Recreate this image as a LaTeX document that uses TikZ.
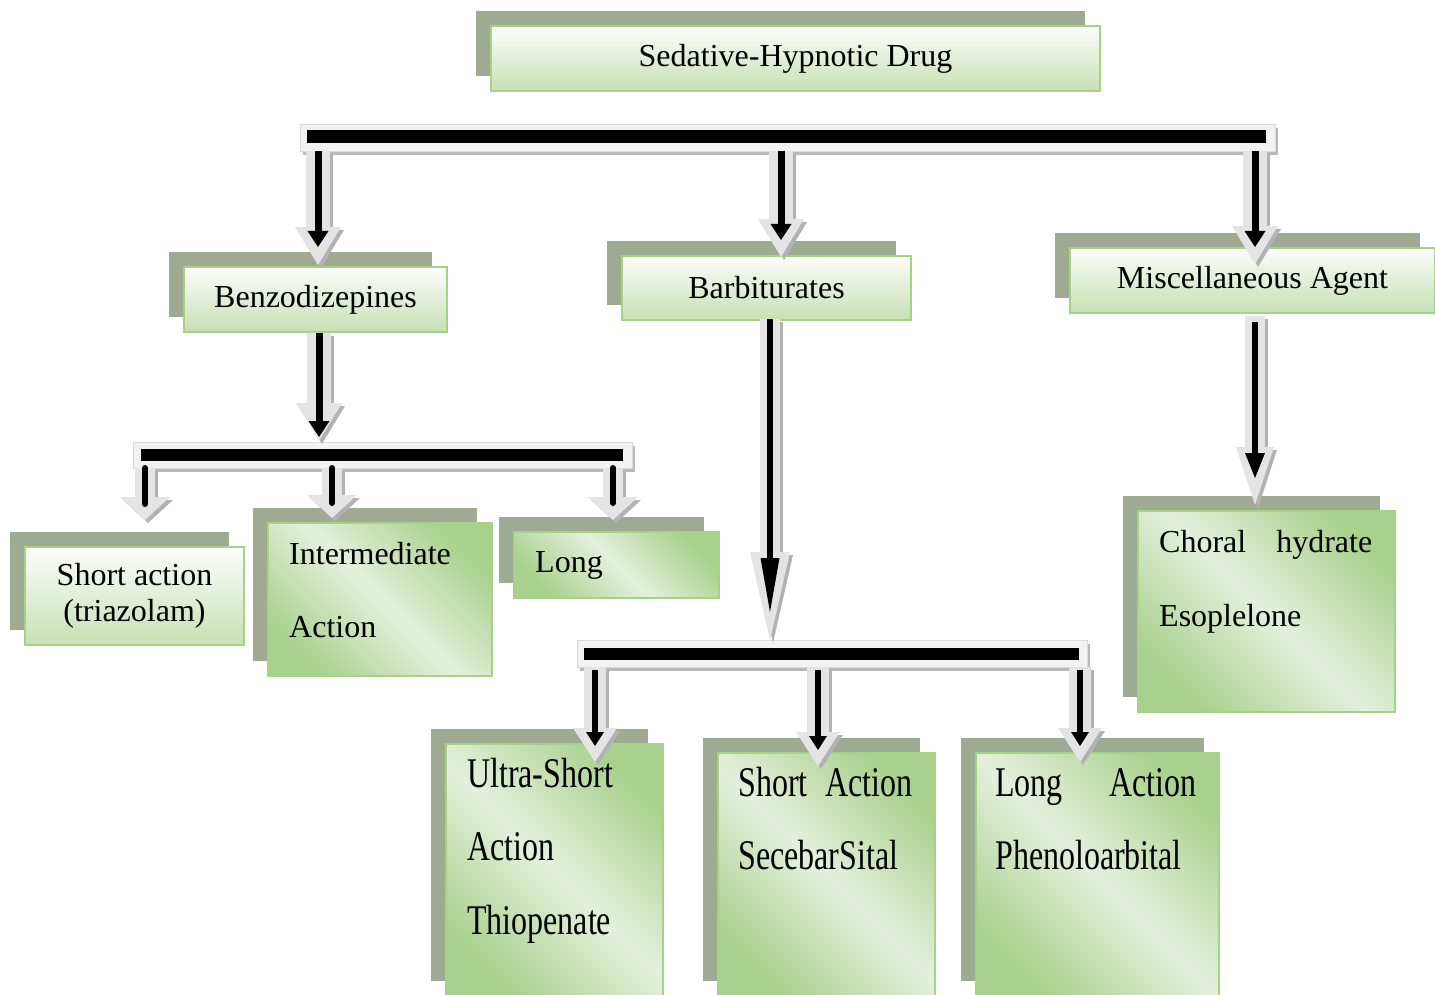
\documentclass[tikz,border=0pt]{standalone}
\usepackage{fontspec}
\usepackage{graphicx}
\setmainfont{Liberation Serif}
\usetikzlibrary{arrows.meta,shadows}
\definecolor{gdark}{RGB}{169,209,142}
\definecolor{glight}{RGB}{228,240,220}
\definecolor{gtop}{RGB}{252,253,250}
\definecolor{gbot}{RGB}{198,224,180}
\definecolor{gborder}{RGB}{165,210,135}
\definecolor{shadowg}{RGB}{158,170,146}
\definecolor{barfill}{RGB}{242,242,242}
\definecolor{barline}{RGB}{218,218,218}
\definecolor{barshade}{RGB}{185,185,185}
\definecolor{arrgray}{RGB}{228,228,228}
\definecolor{arrshade}{RGB}{178,178,178}
\tikzset{
  box/.style={draw=gborder, line width=2pt, anchor=north west, inner sep=0pt, align=center,
    general shadow={fill=shadowg, shadow xshift=-15pt, shadow yshift=15pt}},
  vbox/.style={box, top color=gtop, bottom color=gbot},
  dbox/.style={box, top color=gdark, bottom color=gdark, middle color=glight, shading angle=-45},
  bar/.style={fill=barfill, draw=barline, line width=0.8pt, inner sep=0pt, anchor=north west,
    general shadow={fill=barshade, shadow xshift=3pt, shadow yshift=-4pt}},
  barin/.style={fill=black, inner sep=0pt, anchor=north west},
  lbl/.style={anchor=base west, inner sep=0pt},
  garrow/.style n args={3}{draw=arrgray, line width=#1pt,
    -{Triangle[length=#3pt, width=#2pt, line width=0pt]}},
  sarrow/.style n args={3}{draw=arrshade, line width=#1pt,
    -{Triangle[length=#3pt, width=#2pt, line width=0pt]},
    transform canvas={xshift=3pt, yshift=-3pt}},
  karrow/.style n args={3}{draw=black, line width=#1pt,
    -{Triangle[length=#3pt, width=#2pt, line width=0pt]}},
  kstub/.style={draw=black, line width=6pt, line cap=round},
}
\newcommand{\tall}[1]{\scalebox{1.0}[1.32]{#1}}
\begin{document}
\begin{tikzpicture}[x=1pt, y=-1pt, font=\fontsize{32}{36}\selectfont]
\useasboundingbox (0,0) rectangle (1435,995);

% ---------- boxes ----------
\node[vbox, minimum width=609pt, minimum height=65pt] (top) at (490,25) {Sedative-Hypnotic Drug};
\node[vbox, minimum width=263pt, minimum height=65pt] (benzo) at (183,266) {Benzodizepines};
\node[vbox, minimum width=289pt, minimum height=64pt] (barb) at (621,255) {Barbiturates};
\node[vbox, minimum width=365pt, minimum height=65pt] (misc) at (1069,247) {Miscellaneous Agent};

\node[vbox, minimum width=219pt, minimum height=98pt] (shorta) at (24,546) {Short action\\(triazolam)};
\node[dbox, minimum width=224pt, minimum height=153pt] (inter) at (267,522) {};
\node[dbox, minimum width=205pt, minimum height=66pt] (longa) at (513,531) {};
\node[dbox, minimum width=257pt, minimum height=201pt] (choral) at (1137,510) {};
\node[dbox, minimum width=217pt, minimum height=252pt] (ultra) at (445,743) {};
\node[dbox, minimum width=217pt, minimum height=243pt] (shortb) at (717,752) {};
\node[dbox, minimum width=243pt, minimum height=243pt] (longb) at (975,752) {};

% ---------- texts ----------
\node[lbl] (t-inter1) at (289,564) {Intermediate};
\node[lbl] (t-inter2) at (289,637) {Action};
\node[lbl] (t-long) at (535,572) {Long};
\node[lbl] (t-chor1) at (1159,552) {\hbox to 213pt{Choral\hfill hydrate}};
\node[lbl] (t-chor2) at (1159,626) {Esoplelone};
\node[lbl] (t-ultra1) at (467,787) {\tall{Ultra-Short}};
\node[lbl] (t-ultra2) at (467,860) {\tall{Action}};
\node[lbl] (t-ultra3) at (467,934) {\tall{Thiopenate}};
\node[lbl] (t-sb1) at (738,796) {\tall{\hbox to 174pt{Short\hfill Action}}};
\node[lbl] (t-sb2) at (738,869) {\tall{SecebarSital}};
\node[lbl] (t-lb1) at (995,796) {\tall{\hbox to 201pt{Long\hfill Action}}};
\node[lbl] (t-lb2) at (995,869) {\tall{Phenoloarbital}};

% ---------- bars ----------
\node[bar, minimum width=975pt, minimum height=27pt] (bar1) at (300,124) {};
\node[barin, minimum width=959pt, minimum height=13pt] (bar1k) at (307,130) {};
\node[bar, minimum width=499pt, minimum height=26pt] (bar2) at (133,442) {};
\node[barin, minimum width=482pt, minimum height=12pt] (bar2k) at (141,449) {};
\node[bar, minimum width=510pt, minimum height=27pt] (bar3) at (577,640) {};
\node[barin, minimum width=495pt, minimum height=12pt] (bar3k) at (584,648) {};

% ---------- connector end points ----------
\coordinate (a1s) at (318,151); \coordinate (a1e) at (318,265); \coordinate (a1k) at (318,247);
\coordinate (a2s) at (781,151); \coordinate (a2e) at (781,257); \coordinate (a2k) at (781,240);
\coordinate (a3s) at (1255,151); \coordinate (a3e) at (1255,264); \coordinate (a3k) at (1255,247);
\coordinate (a4s) at (319,333); \coordinate (a4e) at (319,441); \coordinate (a4k) at (319,437);
\coordinate (a5s) at (770,319); \coordinate (a5e) at (770,640); \coordinate (a5k) at (770,612);
\coordinate (a6s) at (1255,316); \coordinate (a6e) at (1255,505); \coordinate (a6k) at (1255,478);
\coordinate (b1s) at (145,468); \coordinate (b1e) at (145,520); \coordinate (b1k) at (145,504);
\coordinate (b2s) at (332,468); \coordinate (b2e) at (332,518); \coordinate (b2k) at (332,503);
\coordinate (b3s) at (613,468); \coordinate (b3e) at (613,520); \coordinate (b3k) at (613,503);
\coordinate (c1s) at (595,667); \coordinate (c1e) at (595,762); \coordinate (c1k) at (595,746);
\coordinate (c2s) at (818,667); \coordinate (c2e) at (818,766); \coordinate (c2k) at (818,750);
\coordinate (c3s) at (1080,667); \coordinate (c3e) at (1080,762); \coordinate (c3k) at (1080,746);

% ---------- arrows ----------
\foreach \s/\e/\k in {a1s/a1e/a1k, a2s/a2e/a2k, a3s/a3e/a3k, a4s/a4e/a4k}{
  \draw[sarrow={24}{46}{38}] (\s) -- (\e);
  \draw[garrow={24}{46}{38}] (\s) -- (\e);
  \draw[karrow={7}{21}{16}] (\s) -- (\k);
}
\draw[sarrow={20}{40}{88}] (a5s) -- (a5e);
\draw[garrow={20}{40}{88}] (a5s) -- (a5e);
\draw[karrow={6}{19}{54}] (a5s) -- (a5k);

\draw[sarrow={20}{38}{58}] (a6s) -- (a6e);
\draw[garrow={20}{38}{58}] (a6s) -- (a6e);
\draw[karrow={6}{20}{25}] ([yshift=-6pt]a6s) -- (a6k);

\foreach \s/\e/\k in {b1s/b1e/b1k, b2s/b2e/b2k, b3s/b3e/b3k}{
  \draw[sarrow={20}{50}{23}] (\s) -- (\e);
  \draw[garrow={20}{50}{23}] (\s) -- (\e);
  \draw[kstub] (\s) -- (\k);
}
\foreach \s/\e/\k in {c1s/c1e/c1k, c2s/c2e/c2k, c3s/c3e/c3k}{
  \draw[sarrow={22}{44}{34}] (\s) -- (\e);
  \draw[garrow={22}{44}{34}] (\s) -- (\e);
  \draw[karrow={6}{18}{14}] ([yshift=-3pt]\s) -- (\k);
}
\end{tikzpicture}
\end{document}
